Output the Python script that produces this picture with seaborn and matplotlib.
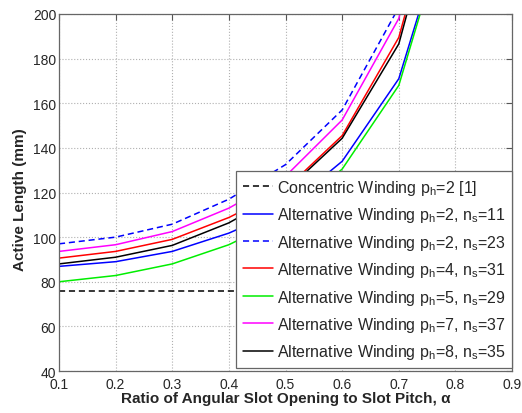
import numpy as np
import pandas as pd
import matplotlib
matplotlib.use("Agg")
import matplotlib.pyplot as plt
import seaborn as sns

# Ratio of angular slot opening to slot pitch
alpha = [0.1, 0.2, 0.3, 0.4, 0.5, 0.6, 0.7, 0.8]

# Active length (mm) for each winding
concentric_ph2 = [76, 76, 76, 76, 76, 76, 76, 76]
alt_ph2_ns11 = [86.9, 89.0, 93.6, 101.8, 113.0, 134.0, 171.0, 254.0]
alt_ph2_ns23 = [97.0, 100.0, 105.8, 117.0, 132.5, 157.0, 203.0, 320.0]
alt_ph4_ns31 = [90.6, 93.6, 99.0, 108.8, 121.5, 145.5, 189.5, 282.0]
alt_ph5_ns29 = [80.0, 82.8, 88.0, 96.6, 109.0, 130.5, 168.0, 253.0]
alt_ph7_ns37 = [93.6, 96.6, 102.5, 113.0, 127.3, 152.5, 198.0, 300.0]
alt_ph8_ns35 = [88.0, 91.0, 96.3, 106.4, 120.6, 144.3, 186.6, 280.0]

labels = [
    r"Concentric Winding p$_{\mathrm{h}}$=2 [1]",
    r"Alternative Winding p$_{\mathrm{h}}$=2, n$_{\mathrm{s}}$=11",
    r"Alternative Winding p$_{\mathrm{h}}$=2, n$_{\mathrm{s}}$=23",
    r"Alternative Winding p$_{\mathrm{h}}$=4, n$_{\mathrm{s}}$=31",
    r"Alternative Winding p$_{\mathrm{h}}$=5, n$_{\mathrm{s}}$=29",
    r"Alternative Winding p$_{\mathrm{h}}$=7, n$_{\mathrm{s}}$=37",
    r"Alternative Winding p$_{\mathrm{h}}$=8, n$_{\mathrm{s}}$=35",
]
series = [concentric_ph2, alt_ph2_ns11, alt_ph2_ns23, alt_ph4_ns31,
          alt_ph5_ns29, alt_ph7_ns37, alt_ph8_ns35]
colors = ["#000000", "#0000ff", "#0000ff", "#ff0000", "#00ee00", "#ff00ff", "#000000"]
dashes = [(0, (4, 2.5)), "-", (0, (4, 2.5)), "-", "-", "-", "-"]

sns.set_style("white")
plt.rcParams["font.family"] = ["Liberation Sans", "DejaVu Sans"]
plt.rcParams["mathtext.fontset"] = "custom"
plt.rcParams["mathtext.rm"] = "Liberation Sans"
plt.rcParams["mathtext.it"] = "Liberation Sans:italic"
plt.rcParams["mathtext.bf"] = "Liberation Sans:bold"

fig = plt.figure(figsize=(5.22, 4.14), dpi=100)
ax = fig.add_axes([0.113, 0.1014, 0.868, 0.8624])

for vals, lab, col, ls in zip(series, labels, colors, dashes):
    df = pd.DataFrame({"alpha": alpha, "length": vals})
    if lab.startswith("Concentric"):
        # constant reference level spanning the whole axis
        df = pd.DataFrame({"alpha": [0.1, 0.9], "length": [vals[0], vals[-1]]})
    sns.lineplot(data=df, x="alpha", y="length", ax=ax, color=col,
                 linewidth=1.1, label=lab, sort=False)
    ax.lines[-1].set_linestyle(ls)

ax.set_xlim(0.1, 0.9)
ax.set_ylim(40, 200)
ax.set_xticks(np.arange(0.1, 0.91, 0.1))
ax.set_xticklabels([f"{t:.1f}" for t in np.arange(0.1, 0.91, 0.1)])
ax.set_yticks(np.arange(40, 201, 20))

ax.grid(True, linestyle=":", color="#b0b0b0", linewidth=0.8)
ax.tick_params(direction="in", length=4, width=0.8, color="#555555",
               top=True, right=True, labelsize=10, pad=2)
ax.tick_params(axis="x", pad=4)
for sp in ax.spines.values():
    sp.set_color("#666666")
    sp.set_linewidth(0.9)

ax.set_xlabel("Ratio of Angular Slot Opening to Slot Pitch, α",
              fontsize=11, fontweight="bold", labelpad=0)
ax.set_ylabel("Active Length (mm)", fontsize=11, fontweight="bold")
ax.yaxis.set_label_coords(-0.071, 0.482)

leg = ax.legend(loc="lower right", bbox_to_anchor=(1.0, 0.008),
                borderaxespad=0, fontsize=11.5, frameon=True, fancybox=False,
                framealpha=1, edgecolor="#666666", handlelength=1.9,
                handletextpad=0.2, labelspacing=0.53, borderpad=0.42)
leg.get_frame().set_linewidth(0.9)

fig.savefig("out.png", dpi=100)
